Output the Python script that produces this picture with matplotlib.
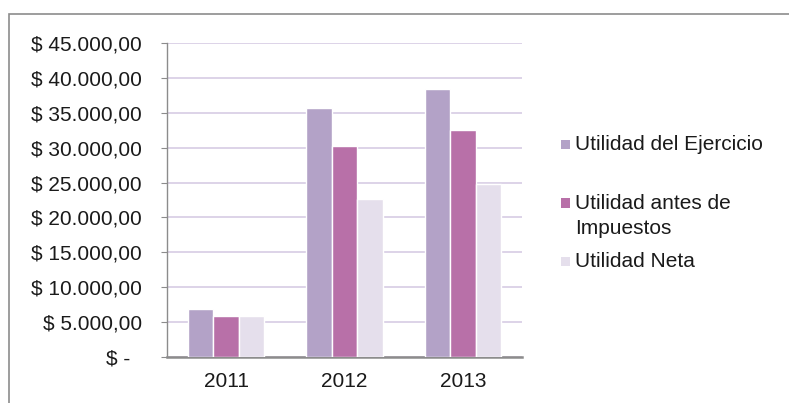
import numpy as np
import matplotlib
matplotlib.use("Agg")
import matplotlib.pyplot as plt
from matplotlib.patches import Rectangle
from matplotlib.ticker import FuncFormatter

plt.rcParams["font.family"] = ["Liberation Sans", "DejaVu Sans"]

# --- Data ---------------------------------------------------------------------
years = ["2011", "2012", "2013"]
series_names = ["Utilidad del Ejercicio", "Utilidad antes de\nImpuestos", "Utilidad Neta"]
utilidad_ejercicio = [6900, 35700, 38350]
utilidad_antes_imp = [5900, 30300, 32600]
utilidad_neta = [5900, 22700, 24800]
y_ticks = [0, 5000, 10000, 15000, 20000, 25000, 30000, 35000, 40000, 45000]

# --- Style --------------------------------------------------------------------
COLORS = ["#B3A2C7", "#B870A8", "#E5DFEC"]
GRID_COLOR = "#D7CCE4"
AXIS_COLOR = "#8C8C8C"
TEXT_COLOR = "#1A1A1A"
FONT_SIZE = 15
LEGEND_Y_PX = [144, 203, 261]   # first-line centre of each legend entry


def money(val, _pos):
    if val == 0:
        return "$ -  "
    s = f"{val:,.2f}".replace(",", "X").replace(".", ",").replace("X", ".")
    return f"$ {s}"


fig = plt.figure(figsize=(7.89, 4.03), dpi=100)
fig.patch.set_facecolor("white")
W, H = 789, 403

# outer chart frame (bottom edge falls outside the picture)
fig.patches.append(Rectangle((9 / W, -0.05), 1.2, 1 - 14 / H + 0.05,
                             transform=fig.transFigure, fill=False,
                             edgecolor="#8C8C8C", linewidth=1.2))

ax = fig.add_axes([167 / W, 1 - 357 / H, (522 - 167) / W, (357 - 43) / H])

x = np.arange(len(years))
width = 0.215
for i, (vals, color) in enumerate(zip(
        [utilidad_ejercicio, utilidad_antes_imp, utilidad_neta], COLORS)):
    ax.bar(x + (i - 1) * width, vals, width=width, color=color,
           edgecolor="white", linewidth=1.0, zorder=3)

ax.set_xlim(-0.5, 2.5)
ax.set_ylim(0, 45000)
ax.set_yticks(y_ticks)
ax.yaxis.set_major_formatter(FuncFormatter(money))
ax.set_xticks(x)
ax.set_xticklabels(years)

ax.grid(axis="y", color=GRID_COLOR, linewidth=1.2, zorder=0)
ax.set_axisbelow(True)

for side in ["top", "right"]:
    ax.spines[side].set_visible(False)
ax.spines["left"].set_color(AXIS_COLOR)
ax.spines["left"].set_linewidth(1.0)
ax.spines["bottom"].set_color(AXIS_COLOR)
ax.spines["bottom"].set_linewidth(1.8)

ax.tick_params(axis="y", length=4, color=AXIS_COLOR, labelsize=FONT_SIZE,
               labelcolor=TEXT_COLOR, pad=14)
ax.tick_params(axis="x", length=0, labelsize=FONT_SIZE, labelcolor=TEXT_COLOR, pad=11)

# --- Legend (drawn by hand: Excel aligns the key with the first text line) ----
for name, color, ypx in zip(series_names, COLORS, LEGEND_Y_PX):
    yf = 1 - ypx / H
    fig.patches.append(Rectangle((561 / W, yf - 4.5 / H), 9 / W, 9 / H,
                                 transform=fig.transFigure, facecolor=color,
                                 edgecolor="none"))
    fig.text(575 / W, yf + 9 / H, name, fontsize=FONT_SIZE, color=TEXT_COLOR,
             ha="left", va="top", linespacing=1.4)

fig.savefig("out.png", dpi=100)
